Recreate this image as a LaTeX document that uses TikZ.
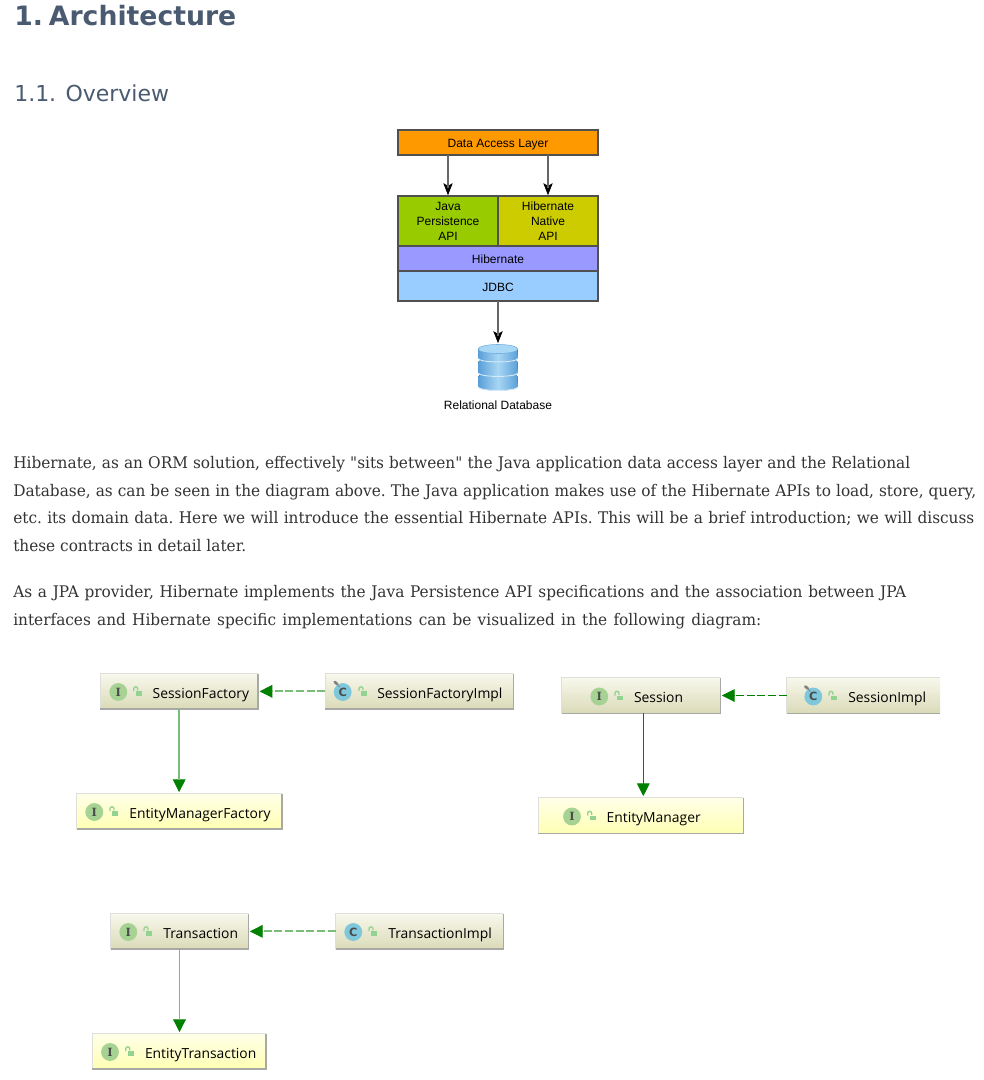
\documentclass[tikz,border=0pt]{standalone}
\usepackage{fontspec}
\usetikzlibrary{arrows.meta,calc}
\setmainfont{DejaVu Serif}
\newfontfamily\bodyf[FakeStretch=0.958]{DejaVu Serif}
\newfontfamily\headf{DejaVu Sans}
\newfontfamily\diagf{Liberation Sans}
\newfontfamily\umlf{Open Sans}
\newfontfamily\iconf{DejaVu Serif}
\definecolor{headc}{HTML}{4A5A70}
\definecolor{bodyc}{HTML}{333333}
\definecolor{archedge}{HTML}{505050}
\definecolor{archconn}{HTML}{666666}
\definecolor{gdark}{HTML}{008000}
\definecolor{glight}{HTML}{78BE78}
\definecolor{plainT}{HTML}{F8F8EC}
\definecolor{plainB}{HTML}{DADAB8}
\definecolor{yelT}{HTML}{FFFFE8}
\definecolor{yelB}{HTML}{FFFFB4}
\definecolor{iconI}{HTML}{A6D394}
\definecolor{iconC}{HTML}{7FC8DC}
\definecolor{lockc}{HTML}{92D392}
\definecolor{edgeL}{HTML}{DEDEDA}
\definecolor{edgeD}{HTML}{A8A8A4}
\definecolor{dalc}{HTML}{FF9900}
\definecolor{jpac}{HTML}{99CC00}
\definecolor{hnac}{HTML}{CCCC00}
\definecolor{hibc}{HTML}{9999FF}
\definecolor{jdbcc}{HTML}{99CCFF}
\definecolor{dbE}{HTML}{5A9FD8}
\definecolor{dbM}{HTML}{A8D6F4}
\definecolor{dbL}{HTML}{A8D8F5}
\definecolor{dbR}{HTML}{6EAEDF}
\definecolor{dbS}{HTML}{D4EAF8}
\tikzset{
  x=0.75pt,y=-0.75pt,
  bodyline/.style={anchor=base west,inner sep=0pt,text=bodyc,font=\bodyf\fontsize{12}{14}\selectfont,execute at begin node=\frenchspacing},
  layer/.style={draw=archedge,line width=1.1pt,inner sep=0pt,outer sep=0pt,align=center,text=black,anchor=north west,text height=8pt,text depth=0pt,font=\diagf\fontsize{9}{10.5}\selectfont},
  archline/.style={draw=archconn,line width=0.95pt,shorten >=6pt},
  archtip/.style={black,line width=0.5pt,-{Stealth[length=9pt,width=7pt,inset=2pt]},shorten >=0.6pt},
  umlbase/.style={anchor=north west,inner sep=0pt,outer sep=0pt,align=left,text=black,font=\umlf\fontsize{10.4}{12}\selectfont},
  plainbox/.style={umlbase,top color=plainT,bottom color=plainB},
  ifacebox/.style={umlbase,top color=yelT,bottom color=yelB},
  greentip/.style={gdark,line width=0.5pt,-{Triangle[length=9.5pt,width=9.5pt]},shorten >=1.2pt},
  realize/.style={draw=glight,line width=1.4pt,dash pattern=on 6pt off 2pt,shorten >=10.3pt},
  assoc/.style={draw=glight,line width=1.4pt,shorten >=10.3pt},
  realizedark/.style={draw=gdark,line width=0.75pt,dash pattern=on 6pt off 2pt,shorten >=10.3pt},
  assocdark/.style={draw=gdark,line width=0.75pt,shorten >=10.3pt},
}
% line style, tip style, from, to, length of the tip stub
\newcommand{\conn}[5]{%
  \draw[#2] ($(#4)!#5!(#3)$) -- (#4);%
  \draw[#1] (#3) -- (#4);%
}
% name, baseline y, width in px, text
\newcommand{\bline}[4]{%
  \pgfmathsetlengthmacro{\bw}{#3*0.75pt}%
  \node[bodyline] (#1) at (13,#2) {\makebox[\bw][s]{#4}};%
}
% name, x1, y1, x2, y2, text x, style, text
\newcommand{\umlbox}[8]{%
  \pgfmathsetlengthmacro{\uw}{(#4-#2)*0.75pt}%
  \pgfmathsetlengthmacro{\uo}{(#6-#2)*0.75pt}%
  \pgfmathsetlengthmacro{\uh}{24.7*0.75pt}%
  \pgfmathsetlengthmacro{\ud}{(#5-#3-24.7)*0.75pt}%
  \node[#7,text width=\uw,text height=\uh,text depth=\ud] (#1) at (#2,#3) {\hspace*{\uo}#8};%
}
\newcommand{\uframe}[1]{%
  \draw[edgeL,line width=0.75pt] (#1.south west) -- (#1.north west) -- (#1.north east);%
  \draw[edgeD,line width=0.9pt] (#1.north east) -- (#1.south east) -- (#1.south west);%
}
\newcommand{\lockicon}[2]{%
  \fill[lockc] (#1-2.3,#2-1) rectangle (#1+3.7,#2+3.7);
  \draw[lockc,line width=1pt] (#1-4.3,#2-1) -- (#1-4.3,#2-3.2) arc[start angle=180,end angle=0,radius=1.5pt] -- ++(0,1.6);
}
\newcommand{\Iicon}[2]{%
  \fill[iconI] (#1,#2) circle[radius=6.7pt];
  \node[inner sep=0pt,text=black!70,font=\iconf\bfseries\fontsize{8.5}{8}\selectfont] at (#1,#2) {I};
}
\newcommand{\Cicon}[2]{%
  \fill[iconC] (#1,#2) circle[radius=6.7pt];
  \node[inner sep=0pt,text=black!70,font=\headf\bfseries\fontsize{8.5}{8}\selectfont] at (#1,#2) {C};
}
\newcommand{\pinmark}[2]{%
  \draw[black!50,line width=2pt,line cap=round] (#1-8,#2-10) -- (#1-5.5,#2-8);
  \draw[black!45,line width=0.8pt] (#1-5.5,#2-8) -- (#1-3,#2-5);
}
\begin{document}
\begin{tikzpicture}
\useasboundingbox (0,0) rectangle (983,1080);
\fill[white] (0,0) rectangle (983,1080);

% headings
\node[anchor=base west,inner sep=0pt,text=headc,font=\headf\bfseries\fontsize{20}{24}\selectfont] (h1) at (14,25.7) {1.\hspace{4.5pt}Architecture};
\node[anchor=base west,inner sep=0pt,text=headc,font=\headf\fontsize{16.5}{20}\selectfont] (h2) at (14,101.5) {1.1. Overview};

% layered diagram
\node[layer,fill=dalc,minimum width=150pt,minimum height=18.75pt] (dal) at (398,130) {Data Access Layer};
\node[layer,fill=jpac,minimum width=75pt,minimum height=37.5pt,text height=28.7pt] (jpa) at (398,196) {Java\\[0.6pt]Persistence\\[0.6pt]API};
\node[layer,fill=hnac,minimum width=75pt,minimum height=37.5pt,text height=28.7pt] (hna) at (498,196) {Hibernate\\[0.6pt]Native\\[0.6pt]API};
\node[layer,fill=hibc,minimum width=150pt,minimum height=18.75pt] (hib) at (398,246) {Hibernate};
\node[layer,fill=jdbcc,minimum width=150pt,minimum height=22.5pt] (jdbc) at (398,271) {JDBC};
\node[minimum width=30pt,minimum height=35pt,inner sep=0pt,outer sep=0pt] (db) at (498,367.3) {};
\node[inner sep=0pt,text=black,font=\diagf\fontsize{9}{10.5}\selectfont] (dblabel) at (498,405) {Relational Database};
\coordinate (dalJ) at (jpa.north |- dal.south);
\coordinate (dalH) at (hna.north |- dal.south);
\conn{archline}{archtip}{dalJ}{jpa.north}{10pt}
\conn{archline}{archtip}{dalH}{hna.north}{10pt}
\conn{archline}{archtip}{jdbc.south}{db.north}{10pt}

% database icon
\foreach \yt/\yb in {376.5/387,362/373,349/358.5}{
  \fill[left color=dbE,right color=dbE,middle color=dbM]
    (478.3,\yt) -- (478.3,\yb) arc[start angle=180,end angle=360,x radius=14.8pt,y radius=2.6pt] -- (517.7,\yt) arc[start angle=0,end angle=180,x radius=14.8pt,y radius=2.6pt] -- cycle;
  \draw[dbS,line width=0.7pt] (478.3,\yb) arc[start angle=180,end angle=360,x radius=14.8pt,y radius=2.6pt];
}
\fill[dbL] (498,349) ellipse[x radius=14.8pt,y radius=3.4pt];
\draw[dbR,line width=0.4pt] (498,349) ellipse[x radius=14.8pt,y radius=3.4pt];

% body text
\bline{p1a}{468.5}{897}{Hibernate, as an ORM solution, effectively "sits between" the Java application data access layer and the Relational}
\bline{p1b}{496}{963}{Database, as can be seen in the diagram above. The Java application makes use of the Hibernate APIs to load, store, query,}
\bline{p1c}{523.5}{961}{etc. its domain data. Here we will introduce the essential Hibernate APIs. This will be a brief introduction; we will discuss}
\bline{p1d}{551}{233}{these contracts in detail later.}
\bline{p2a}{597.5}{893}{As a JPA provider, Hibernate implements the Java Persistence API specifications and the association between JPA}
\bline{p2b}{625}{748}{interfaces and Hibernate specific implementations can be visualized in the following diagram:}

% UML boxes
\umlbox{sf}{100.3}{673.7}{258}{709}{152.7}{plainbox}{SessionFactory}
\umlbox{sfi}{325.3}{673.7}{513.3}{709}{377.3}{plainbox}{SessionFactoryImpl}
\umlbox{emf}{76.7}{793.7}{282}{829}{129.3}{ifacebox}{EntityManagerFactory}
\umlbox{ses}{561.7}{677.7}{720.3}{713.3}{634}{plainbox}{Session}
\umlbox{sesi}{786.7}{677.7}{940}{713.3}{848.3}{plainbox}{SessionImpl}
\umlbox{em}{538.3}{797.7}{743.3}{833.3}{606.7}{ifacebox}{EntityManager}
\umlbox{tr}{110.7}{913.7}{248.3}{949}{163.3}{plainbox}{Transaction}
\umlbox{tri}{335.7}{913.7}{503.3}{949}{388.3}{plainbox}{TransactionImpl}
\umlbox{et}{92.3}{1033.7}{266}{1069}{145}{ifacebox}{EntityTransaction}
\uframe{sf}\uframe{sfi}\uframe{emf}\uframe{ses}\uframe{em}\uframe{tr}\uframe{tri}\uframe{et}
\draw[edgeL,line width=0.75pt] (sesi.south west) -- (sesi.north west) -- (sesi.north east);
\draw[edgeD,line width=0.9pt] (sesi.south east) -- (sesi.south west);

% icons
\Iicon{118.3}{692}\lockicon{138}{692}
\Cicon{342.7}{692}\pinmark{342.7}{692}\lockicon{363.3}{692}
\Iicon{94.3}{812}\lockicon{114.3}{812}
\Iicon{599.3}{696.5}\lockicon{619.3}{696.5}
\Cicon{813.3}{696.5}\pinmark{813.3}{696.5}\lockicon{833.3}{696.5}
\Iicon{572}{816.5}\lockicon{592}{816.5}
\Iicon{128.3}{932}\lockicon{148.3}{932}
\Cicon{353.3}{932}\lockicon{373.3}{932}
\Iicon{110}{1052}\lockicon{130}{1052}

% connectors
\coordinate (sfS) at (sf.south);
\coordinate (emfN) at (sf.south |- emf.north);
\coordinate (sesS) at ($(ses.south)+(2.3,0)$);
\coordinate (emN) at ($(ses.south |- em.north)+(2.3,0)$);
\coordinate (trS) at (tr.south);
\coordinate (etN) at (tr.south |- et.north);
\conn{realize}{greentip}{sfi.west}{sf.east}{11pt}
\conn{assoc}{greentip}{sfS}{emfN}{11pt}
\conn{realizedark}{greentip}{sesi.west}{ses.east}{11pt}
\conn{assocdark}{greentip}{sesS}{emN}{11pt}
\conn{realize}{greentip}{tri.west}{tr.east}{11pt}
\conn{assoc}{greentip}{trS}{etN}{11pt}
\end{tikzpicture}
\end{document}
